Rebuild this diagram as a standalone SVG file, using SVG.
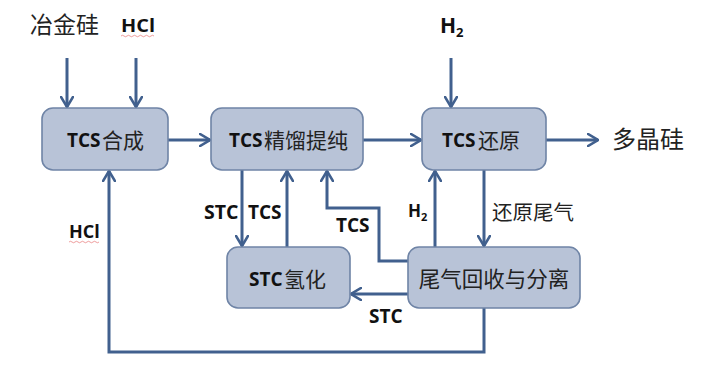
<svg xmlns="http://www.w3.org/2000/svg" width="722" height="366" viewBox="0 0 722 366">
<defs>
<marker id="arr" viewBox="0 0 12 14" refX="11" refY="7" markerWidth="12" markerHeight="14" markerUnits="userSpaceOnUse" orient="auto">
<path d="M1,1 L11,7 L1,13" fill="none" stroke="#41608e" stroke-width="2.6" stroke-linecap="round" stroke-linejoin="miter"/>
</marker>
<style>
.box{fill:#b8c3d7;stroke:#6f84a6;stroke-width:1.6}
.c{fill:none;stroke:#41608e;stroke-width:3;marker-end:url(#arr)}
.lat{font-family:"Open Sans","Liberation Sans",Arial,sans-serif;font-weight:bold;fill:#111}
.zh{font-family:"Noto Sans CJK SC",sans-serif;font-weight:normal;fill:#222}
.sq{fill:none;stroke:#e05050;stroke-width:0.8;opacity:0.7}
</style>
</defs>
<rect width="722" height="366" fill="#ffffff"/>

<g id="connectors">
<path class="c" d="M67,58 L67,107"/>
<path class="c" d="M136,58 L136,107"/>
<path class="c" d="M168,140 L210,140"/>
<path class="c" d="M363,140 L421,140"/>
<path class="c" d="M451,58 L451,107"/>
<path class="c" d="M546,140 L598,140"/>
<path class="c" d="M242,170 L242,246"/>
<path class="c" d="M287,247 L287,171"/>
<path class="c" d="M408,261 L379,261 L379,208 L327,208 L327,171"/>
<path class="c" d="M435,247 L435,171"/>
<path class="c" d="M484,170 L484,246"/>
<path class="c" d="M408,294 L351,294"/>
<path class="c" d="M484,308 L484,352 L109,352 L109,171"/>
</g>

<g id="input-labels">
<text class="zh" x="30" y="33" font-size="23">冶金硅</text>
<text class="lat" x="121" y="32" font-size="17" textLength="34" lengthAdjust="spacingAndGlyphs">HCl</text>
<path class="sq" d="M121,36 q1.5,-1.5 3,0 t3,0 t3,0 t3,0 t3,0 t3,0 t3,0 t3,0 t3,0 t3,0 t3,0"/>
<text class="lat" x="440" y="33" font-size="21">H<tspan font-size="13" dy="4">2</tspan></text>
<text class="zh" x="612" y="148" font-size="24">多晶硅</text>
</g>

<g id="node-tcs-synthesis">
<rect class="box" x="42" y="108" width="126" height="62" rx="11"/>
<text class="lat" x="67" y="147" font-size="19">TCS</text>
<text class="zh" x="102" y="148" font-size="21">合成</text>
</g>

<g id="node-tcs-distillation">
<rect class="box" x="211" y="108" width="152" height="62" rx="11"/>
<text class="lat" x="229" y="147" font-size="19">TCS</text>
<text class="zh" x="264" y="148" font-size="21">精馏提纯</text>
</g>

<g id="node-tcs-reduction">
<rect class="box" x="422" y="108" width="124" height="62" rx="11"/>
<text class="lat" x="442" y="147" font-size="19">TCS</text>
<text class="zh" x="478" y="148" font-size="21">还原</text>
</g>

<g id="node-stc-hydrogenation">
<rect class="box" x="227" y="247" width="123" height="61" rx="11"/>
<text class="lat" x="249" y="286" font-size="19">STC</text>
<text class="zh" x="284" y="287" font-size="21">氢化</text>
</g>

<g id="node-offgas-recovery">
<rect class="box" x="408" y="247" width="172" height="61" rx="11"/>
<text class="zh" x="494" y="287" font-size="21.5" text-anchor="middle">尾气回收与分离</text>
</g>

<g id="connector-labels">
<text class="lat" x="204" y="219" font-size="19.5">STC</text>
<text class="lat" x="248" y="219" font-size="19">TCS</text>
<text class="lat" x="336" y="232" font-size="19">TCS</text>
<text class="lat" x="408" y="217" font-size="17">H<tspan font-size="11" dy="4">2</tspan></text>
<text class="zh" x="492" y="220" font-size="20.5">还原尾气</text>
<text class="lat" x="369" y="323" font-size="19">STC</text>
<text class="lat" x="69" y="238" font-size="18">HCl</text>
<path class="sq" d="M69,242 q1.5,-1.5 3,0 t3,0 t3,0 t3,0 t3,0 t3,0 t3,0 t3,0 t3,0 t3,0"/>
</g>
</svg>
